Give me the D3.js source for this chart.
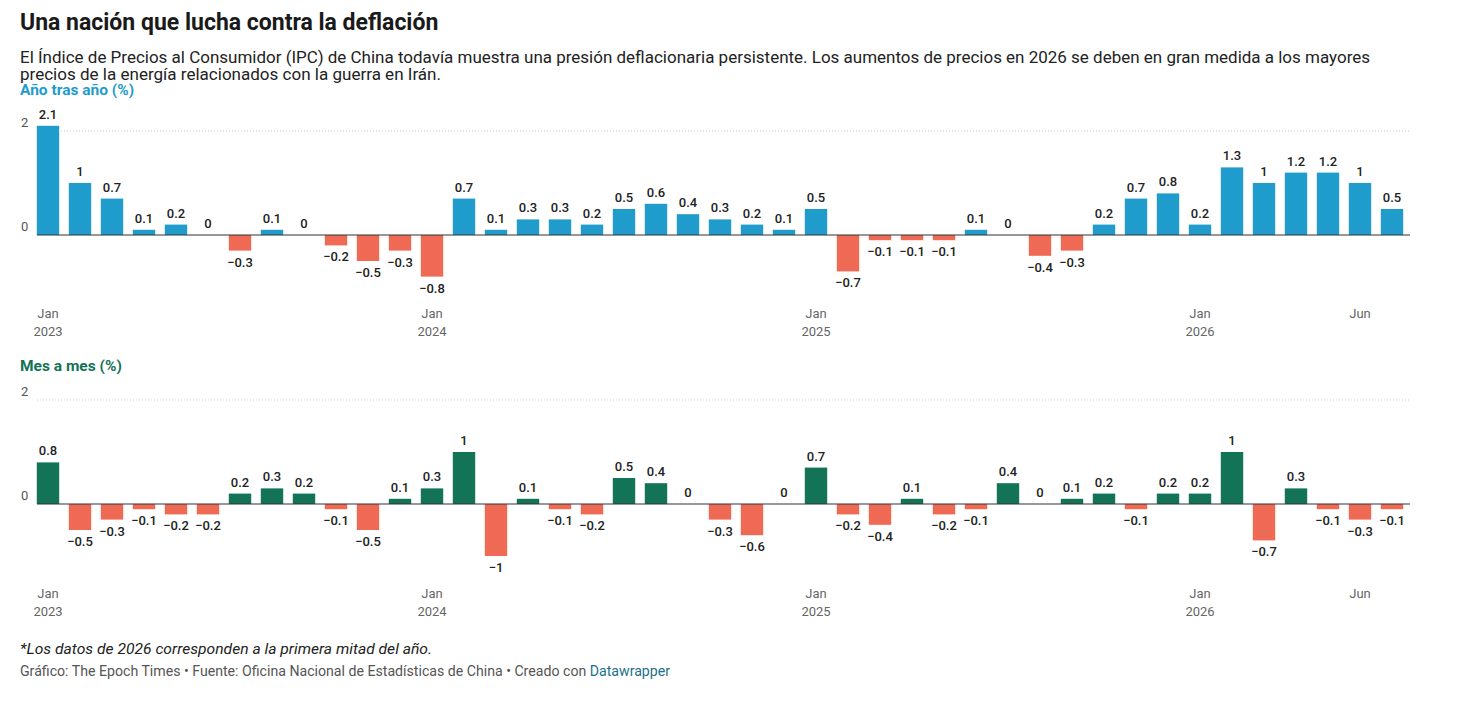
<!DOCTYPE html>
<html><head><meta charset="utf-8">
<script src="https://cdn.jsdelivr.net/npm/d3@7"></script>
<style>
body{margin:0;background:#fff;font-family:Roboto,"Noto Sans",sans-serif;}
</style></head>
<body><svg id="c" width="1480" height="720"></svg>
<script>
// Data (Jan 2023 .. Jul 2026, one value per month)
const yoyValues = [2.1,1,0.7,0.1,0.2,0,-0.3,0.1,0,-0.2,-0.5,-0.3,
  -0.8,0.7,0.1,0.3,0.3,0.2,0.5,0.6,0.4,0.3,0.2,0.1,
  0.5,-0.7,-0.1,-0.1,-0.1,0.1,0,-0.4,-0.3,0.2,0.7,0.8,
  0.2,1.3,1,1.2,1.2,1,0.5];
const momValues = [0.8,-0.5,-0.3,-0.1,-0.2,-0.2,0.2,0.3,0.2,-0.1,-0.5,0.1,
  0.3,1,-1,0.1,-0.1,-0.2,0.5,0.4,0,-0.3,-0.6,0,
  0.7,-0.2,-0.4,0.1,-0.2,-0.1,0.4,0,0.1,0.2,-0.1,0.2,
  0.2,1,-0.7,0.3,-0.1,-0.3,-0.1];
const tickIdx = [0,12,24,36,41];
const tickLabels = [["Jan","2023"],["Jan","2024"],["Jan","2025"],["Jan","2026"],["Jun",""]];

const svg = d3.select("#c");
svg.append("text").attr("x",20).attr("y",30).attr("font-size",23).attr("font-weight",700).attr("fill","#1a1a1a")
  .text("Una nación que lucha contra la deflación");
svg.append("text").attr("x",20).attr("y",63).attr("font-size",16.5).attr("fill","#222")
  .attr("textLength",1350).attr("lengthAdjust","spacingAndGlyphs")
  .text("El Índice de Precios al Consumidor (IPC) de China todavía muestra una presión deflacionaria persistente. Los aumentos de precios en 2026 se deben en gran medida a los mayores");
svg.append("text").attr("x",20).attr("y",80).attr("font-size",16.5).attr("fill","#222")
  .attr("textLength",421).attr("lengthAdjust","spacingAndGlyphs")
  .text("precios de la energía relacionados con la guerra en Irán.");

const x = d3.scaleBand().domain(d3.range(yoyValues.length)).range([32,1408]).paddingInner(0.3).paddingOuter(0.15);

function panel(values, zeroY, title, titleY, posColor, tickOff){
  const y = d3.scaleLinear().domain([0,2]).range([zeroY, zeroY-104]);
  svg.append("text").attr("x",20).attr("y",titleY).attr("font-size",15.5).attr("font-weight",700)
    .attr("fill",posColor).text(title);
  const g = svg.append("g");
  g.append("line").attr("x1",37).attr("x2",1410).attr("y1",y(2)).attr("y2",y(2))
    .attr("stroke","#ccc").attr("stroke-dasharray","1,2");
  [0,2].forEach(v=>g.append("text").attr("x",21).attr("y",y(v)-4).attr("font-size",13).attr("fill","#555").text(v));
  g.selectAll("rect").data(values).join("rect")
    .attr("x",(d,i)=>x(i)).attr("width",x.bandwidth())
    .attr("y",d=>y(Math.max(0,d))).attr("height",d=>Math.abs(y(d)-y(0)))
    .attr("fill",d=>d<0?"#ef6a55":posColor);
  g.append("line").attr("x1",37).attr("x2",1410).attr("y1",y(0)).attr("y2",y(0)).attr("stroke","#333").attr("stroke-width",1.2);
  g.selectAll("text.v").data(values).join("text").attr("class","v")
    .attr("x",(d,i)=>x(i)+x.bandwidth()/2)
    .attr("y",d=>d<0?y(d)+16:y(d)-7)
    .attr("text-anchor","middle").attr("font-size",13).attr("font-weight",500).attr("fill","#222")
    .text(d=>d<0?"\u2212"+Math.abs(d):d);
  tickIdx.forEach((t,k)=>{
    const tx = x(t)+x.bandwidth()/2;
    const tt = g.append("text").attr("x",tx).attr("y",zeroY+tickOff).attr("text-anchor","middle").attr("font-size",13).attr("fill","#666");
    tt.append("tspan").attr("x",tx).text(tickLabels[k][0]);
    tt.append("tspan").attr("x",tx).attr("dy",18).text(tickLabels[k][1]);
  });
}
panel(yoyValues, 235, "Año tras año (%)", 95, "#1f9ccc", 83);
panel(momValues, 504, "Mes a mes (%)", 371, "#137356", 94);

svg.append("text").attr("x",20).attr("y",654).attr("font-size",15.5).attr("font-style","italic").attr("fill","#222")
  .attr("textLength",412).attr("lengthAdjust","spacingAndGlyphs")
  .text("*Los datos de 2026 corresponden a la primera mitad del año.");
const cr = svg.append("text").attr("x",20).attr("y",676).attr("font-size",14).attr("fill","#555")
  .attr("textLength",650).attr("lengthAdjust","spacingAndGlyphs");
cr.append("tspan").text("Gráfico: The Epoch Times • Fuente: Oficina Nacional de Estadísticas de China • Creado con ");
cr.append("tspan").attr("fill","#1d6f8a").text("Datawrapper");
</script></body></html>
